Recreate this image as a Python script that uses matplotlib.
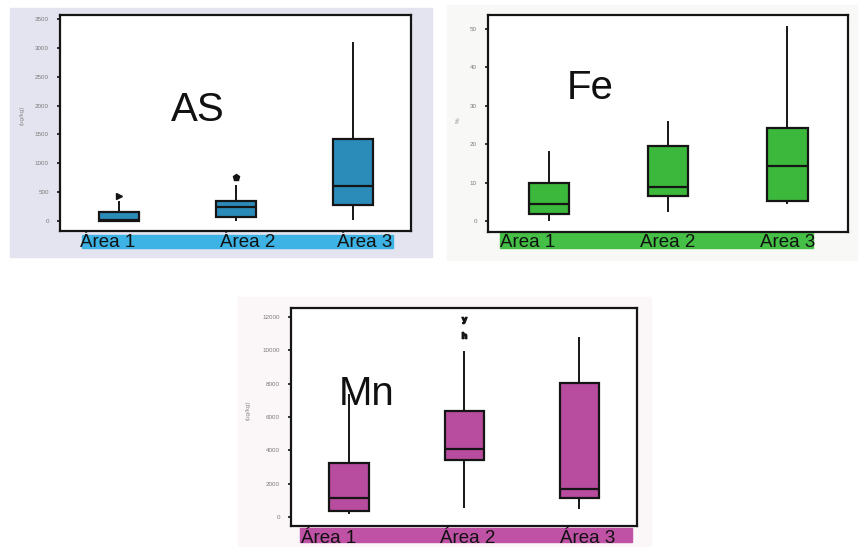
import matplotlib
matplotlib.use("Agg")
import matplotlib.pyplot as plt
from matplotlib.patches import Rectangle
from matplotlib import transforms

plt.rcParams['font.family'] = ['Liberation Sans', 'DejaVu Sans']

# ---------------- data ----------------
areas = ["Área 1", "Área 2", "Área 3"]

as_whislo = [0, 17, 35]
as_q1 = [0, 69, 277]
as_med = [10, 243, 607]
as_q3 = [155, 347, 1421]
as_whishi = [330, 607, 3085]
as_fliers = [[433], [763], []]
as_ticks = [0, 500, 1000, 1500, 2000, 2500, 3000, 3500]

fe_whislo = [0.3, 2.6, 4.7]
fe_q1 = [1.8, 6.5, 5.2]
fe_med = [4.4, 8.9, 14.3]
fe_q3 = [9.9, 19.5, 24.2]
fe_whishi = [18.0, 25.8, 50.5]
fe_fliers = [[], [], []]
fe_ticks = [0, 10, 20, 30, 40, 50]

mn_whislo = [240, 600, 540]
mn_q1 = [360, 3420, 1140]
mn_med = [1140, 4080, 1680]
mn_q3 = [3240, 6360, 8040]
mn_whishi = [7300, 9900, 10740]
mn_fliers = [[], [10900, 11800], []]
mn_ticks = [0, 2000, 4000, 6000, 8000, 10000, 12000]

W, H = 860, 547
fig = plt.figure(figsize=(W / 100, H / 100), dpi=100)
fig.patch.set_facecolor("white")


def px_rect(x0, y0, x1, y1):
    return [x0 / W, 1 - y1 / H, (x1 - x0) / W, (y1 - y0) / H]


def panel(bg_box, bg_col, ax_box, ylim, xlim, stats_arrays, fliers, ticks,
          box_col, band_box, band_col, title, title_xy, ylabel, ylabel_xy,
          label_off, label_y, flier_markers):
    x0, y0, x1, y1 = bg_box
    fig.patches.append(Rectangle((x0 / W, 1 - y1 / H), (x1 - x0) / W, (y1 - y0) / H,
                                 transform=fig.transFigure, color=bg_col, zorder=-2))
    bx0, by0, bx1, by1 = band_box
    fig.patches.append(Rectangle((bx0 / W, 1 - by1 / H), (bx1 - bx0) / W, (by1 - by0) / H,
                                 transform=fig.transFigure, color=band_col, zorder=-1))
    ax = fig.add_axes(px_rect(*ax_box))
    ax.set_zorder(2)
    ax.set_facecolor("white")
    wl, q1, md, q3, wh = stats_arrays
    stats = []
    for i in range(len(areas)):
        stats.append(dict(whislo=wl[i], q1=q1[i], med=md[i], q3=q3[i], whishi=wh[i],
                          fliers=[], label=areas[i]))
    ax.bxp(stats, positions=[1, 2, 3], widths=0.34, patch_artist=True,
           showcaps=False, showfliers=False,
           boxprops=dict(facecolor=box_col, edgecolor="#151515", linewidth=1.6),
           medianprops=dict(color="#151515", linewidth=1.6),
           whiskerprops=dict(color="#151515", linewidth=1.4))
    for i, fl in enumerate(fliers):
        for j, v in enumerate(fl):
            ax.plot([i + 1], [v], marker=flier_markers[i][j], color="#151515",
                    markersize=4.5, linestyle="none")
    ax.set_xlim(*xlim)
    ax.set_ylim(*ylim)
    ax.set_yticks(ticks)
    ax.set_yticklabels([str(t) for t in ticks], fontsize=4.5, color="#7a7a7a")
    ax.tick_params(axis="y", length=2, width=1.2, color="#151515", pad=6)
    ax.set_xticks([])
    for s in ax.spines.values():
        s.set_linewidth(1.6)
        s.set_color("#151515")
    trans = transforms.blended_transform_factory(ax.transData, fig.transFigure)
    for i, a in enumerate(areas):
        ax.text(i + 1 + label_off[i], 1 - label_y / H, a, transform=trans,
                ha="center", va="baseline", fontsize=13.5, color="#111111", zorder=5,
                clip_on=False)
    fig.text(title_xy[0] / W, 1 - title_xy[1] / H, title, ha="center", va="center",
             fontsize=29, color="#111111", zorder=10)
    fig.text(ylabel_xy[0] / W, 1 - ylabel_xy[1] / H, ylabel, ha="center", va="center",
             rotation=90, fontsize=4.5, color="#8a8a8a", zorder=10)
    return ax


panel((10, 8, 432, 257), "#e4e4f0", (60, 15, 411, 231), (-173, 3570), (0.496, 3.496),
      (as_whislo, as_q1, as_med, as_q3, as_whishi), as_fliers, as_ticks,
      "#2b8cba", (82, 235, 393, 248), "#3db2e4", "AS", (198, 110), "(ug/kg)", (22, 115),
      [-0.10, 0.10, 0.10], 247, [[">"], ["p"], []])

panel((447, 5, 857, 260), "#f8f9f6", (488, 15, 848, 232), (-2.86, 53.6), (0.487, 3.51),
      (fe_whislo, fe_q1, fe_med, fe_q3, fe_whishi), fe_fliers, fe_ticks,
      "#3cb83c", (500, 233, 813, 248), "#45bf45", "Fe", (590, 88), "%", (458, 120),
      [-0.18, 0.0, 0.0], 247, [[], [], []])

panel((238, 297, 651, 547), "#fbf6f8", (291, 308, 637, 526), (-540, 12540), (0.496, 3.5),
      (mn_whislo, mn_q1, mn_med, mn_q3, mn_whishi), mn_fliers, mn_ticks,
      "#b84c9e", (300, 528, 632, 542), "#c052a6", "Mn", (367, 394), "(ug/kg)", (248, 410),
      [-0.18, 0.03, 0.07], 543, [[], [r"$\mathbf{h}$", r"$\mathbf{y}$"], []])

fig.savefig("out.png", dpi=100)
